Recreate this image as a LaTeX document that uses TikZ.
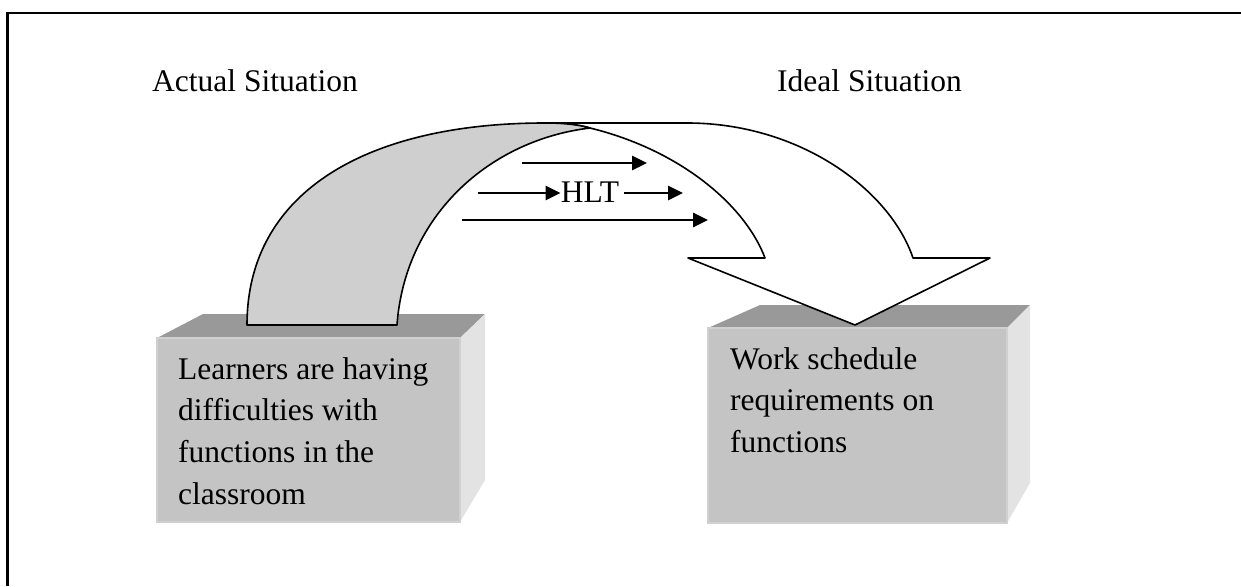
\documentclass[tikz,border=0pt]{standalone}
\usepackage{fontspec}
\setmainfont{Liberation Serif}
\usetikzlibrary{arrows.meta}

\definecolor{frontgray}{gray}{0.77}
\definecolor{topgray}{gray}{0.60}
\definecolor{sidegray}{gray}{0.89}
\definecolor{bandgray}{gray}{0.81}

\begin{document}
\begin{tikzpicture}
    [
        x=1pt,
        y=-1pt,
        every node/.style={
                inner sep=0pt,
                font=\fontsize{31.5}{41.7}\selectfont,
            },
        label/.style={
                anchor=base west,
            },
        boxtext/.style={
                anchor=north west,
                align=left,
            },
        front/.style={fill=frontgray, draw=frontgray!80!white, line width=1.5},
        topface/.style={fill=topgray},
        sideface/.style={fill=sidegray},
        band/.style={draw=black, line width=1.6, line join=round},
        hlt/.style={line width=2.7pt, -{Triangle[length=15pt, width=14pt]}},
    ]

    \useasboundingbox (0,0) rectangle (1241,586);

    % frame, only top and left edges are visible
    \draw [line width=2.5] (7.5,586) -- (7.5,13) -- (1241,13);

    % headings
    \node [label] (actual) at (152,92) {Actual Situation};
    \node [label] (ideal) at (777,92) {Ideal Situation};

    % left box
    \fill [topface] (157,338) -- (203,314) -- (485,314) -- (460,338) -- cycle;
    \fill [sideface] (460,338) -- (485,314) -- (485,480) -- (460,522) -- cycle;
    \draw [front] (157,338) rectangle (460,522);
    \node [boxtext] (learners) at (178,357)
        {Learners are having\\difficulties with\\functions in the\\classroom};

    % right box
    \fill [topface] (708,328) -- (760,305) -- (1030,305) -- (1007,328) -- cycle;
    \fill [sideface] (1007,328) -- (1030,305) -- (1030,483) -- (1007,523) -- cycle;
    \draw [front] (708,328) rectangle (1007,523);
    \node [boxtext] (work) at (730,347)
        {Work schedule\\requirements on\\functions};

    % white curved arrow (front part)
    \draw [band, fill=white] (545,123) -- (687,123)
        .. controls (800,123) and (890,190) .. (913,258)
        -- (990,258) -- (855,325) -- (688,258) -- (765,258)
        .. controls (745,205) and (680,150) .. (590,128)
        .. controls (580,125) and (565,123) .. (545,123) -- cycle;

    % grey part of the arrow, rising from the left box
    \draw [band, fill=bandgray] (247,325)
        .. controls (247,190) and (370,123) .. (545,123)
        .. controls (565,123) and (580,125) .. (590,128)
        .. controls (490,140) and (405,215) .. (397,325) -- cycle;

    % HLT arrows
    \node [anchor=base] (hltlabel) at (590,202) {HLT};
    \coordinate (a1s) at (522,163);
    \coordinate (a1e) at (647,163);
    \coordinate (a2s) at (478,193);
    \coordinate (a2e) at (683,193);
    \coordinate (a3s) at (462,220);
    \coordinate (a3e) at (708,220);
    \draw [hlt] (a1s) -- (a1e);
    \draw [hlt] (a2s) -- (a2s -| hltlabel.west);
    \draw [hlt, shorten <=5pt] (a2e -| hltlabel.east) -- (a2e);
    \draw [hlt] (a3s) -- (a3e);
\end{tikzpicture}
\end{document}
